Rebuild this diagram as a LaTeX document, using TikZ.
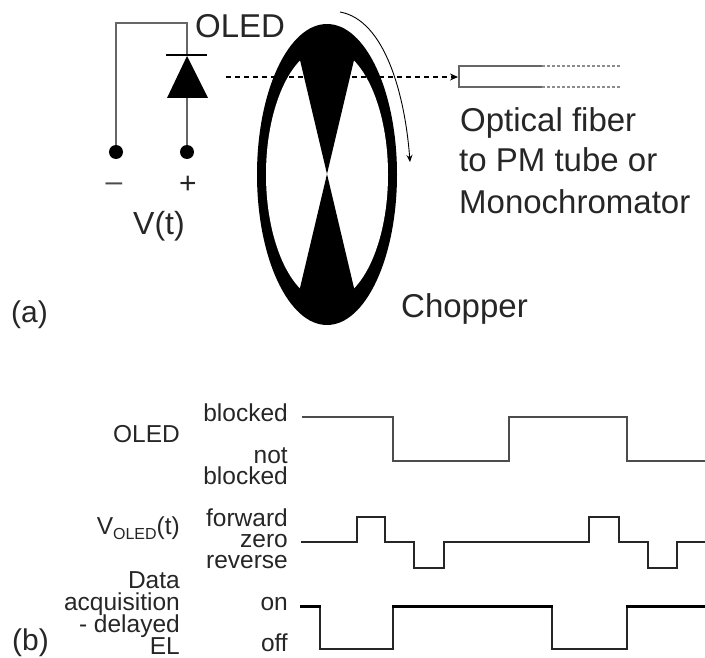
\documentclass[tikz,border=0pt]{standalone}
\usepackage{fontspec}
\setmainfont{Liberation Sans}
\usetikzlibrary{
        arrows,
        arrows.meta,
        positioning,
        shapes,
        shapes.geometric
    }
\tikzset{>=stealth',shorten >=0pt}
\tikzset{
    biglabel/.style={inner sep=0pt,anchor=base west,text=black!85,font=\fontsize{33}{36}\selectfont},
    leftlabel/.style={inner sep=0pt,anchor=base east,align=right,text=black!85,font=\fontsize{24.5}{26}\selectfont},
    terminal/.style={circle,fill=black,inner sep=0pt,minimum size=14pt},
    wire/.style={draw=black!60,line width=1.8pt},
    signal/.style={draw=black!85,line width=1.5pt,line join=miter},
    fiberwall/.style={draw=black!60,line width=2pt}
}

\begin{document}
\begin{tikzpicture}[x=1pt,y=-1pt]
        \useasboundingbox (0,0) rectangle (705,658);
        % circuit
        \node[terminal] (minus) at (116,152) {};
        \node[terminal] (plus) at (187,152) {};
        \coordinate (cornerl) at (116,23);
        \coordinate (cornerr) at (187,23);
        \coordinate (cathode) at (187,56);
        \coordinate (anode) at (187,98);
        \draw[wire] (minus) -- (cornerl) -- (cornerr) -- (cathode);
        \draw[wire] (anode) -- (plus);
        \fill (cathode) -- (208,98) -- (167,98) -- cycle;
        \draw[line width=1.5pt] (166,55) -- (207,55);
        \node[biglabel] (oledtop) at (195,38) {OLED};
        \node[inner sep=0pt,text=black!70,font=\fontsize{30}{32}\selectfont] (minuslabel) at (114,187) {–};
        \node[inner sep=0pt,text=black!85,font=\fontsize{30}{32}\selectfont] (pluslabel) at (188,185) {+};
        \node[biglabel,anchor=base,font=\fontsize{32}{34}\selectfont] (vlabel) at (159,235) {V(t)};
        % chopper
        \fill (327,174.5) ellipse [x radius=70,y radius=150.5];
        \fill[white] (327,174.5) ellipse [x radius=61,y radius=127];
        \fill (327,174) -- (296.2,44) -- (357.8,44) -- cycle;
        \fill (327,174) -- (296.2,304) -- (357.8,304) -- cycle;
        \draw[line width=0.9pt,-{Stealth[length=7pt,width=6pt]}] (340,12) .. controls (385,20) and (405,95) .. (410,162);
        \node[biglabel] (chopper) at (401,317) {Chopper};
        % fiber
        \coordinate (beamstart) at (226,77);
        \coordinate (fibertop) at (459,66);
        \coordinate (fiberbot) at (459,87);
        \coordinate (fibermid) at (458,77);
        \coordinate (toptail) at (542,66);
        \coordinate (bottail) at (542,87);
        \coordinate (topend) at (620,66);
        \coordinate (botend) at (620,87);
        \draw[line width=1.1pt,dash pattern=on 5pt off 4pt,-{Stealth[length=8pt,width=7pt]}] (beamstart) -- (fibermid);
        \draw[fiberwall] (toptail) -- (fibertop) -- (fiberbot) -- (bottail);
        \draw[draw=black!45,line width=1.2pt,dash pattern=on 2.5pt off 2.5pt] (toptail) -- (topend);
        \draw[draw=black!45,line width=1.2pt,dash pattern=on 2.5pt off 2.5pt] (bottail) -- (botend);
        \node[biglabel] (fiberone) at (460,132) {Optical fiber};
        \node[biglabel] (fibertwo) at (459,172) {to PM tube or};
        \node[biglabel] (fiberthree) at (459,214) {Monochromator};
        \node[biglabel,font=\fontsize{30}{32}\selectfont] (parta) at (11,323) {(a)};
        % timing
        \node[biglabel,font=\fontsize{30}{32}\selectfont] (partb) at (12,650) {(b)};
        \node[leftlabel] (oledrow) at (180,442) {OLED};
        \node[leftlabel] (voledrow) at (180,534) {V\raisebox{-5pt}{\fontsize{16}{16}\selectfont OLED}(t)};
        \node[leftlabel] (datarow) at (180,654) {Data\\[-4pt]acquisition\\[-4pt]- delayed\\[-4pt]EL};
        \node[leftlabel] (blocked) at (288,421) {blocked};
        \node[leftlabel] (notblocked) at (288,484) {not\\[-5pt]blocked};
        \node[leftlabel] (levels) at (288,568) {forward\\[-5pt]zero\\[-5pt]reverse};
        \node[leftlabel] (on) at (288,610) {on};
        \node[leftlabel] (off) at (288,651) {off};
        \draw[signal,draw=black!70] (302,417) -- (393,417) -- (393,461) -- (509,461) -- (509,417)
            -- (627,417) -- (627,461) -- (705,461);
        \draw[signal] (301,542) -- (357,542) -- (357,517) -- (385,517) -- (385,542) -- (414,542)
            -- (414,568) -- (444,568) -- (444,542) -- (589,542) -- (589,517) -- (619,517)
            -- (619,542) -- (648,542) -- (648,568) -- (677,568) -- (677,542) -- (705,542);
        \draw[signal] (320,606) -- (320,649) -- (393,649) -- (393,606);
        \draw[signal] (552,606) -- (552,649) -- (627,649) -- (627,606);
        \draw[line width=3pt] (300,606) -- (320.7,606);
        \draw[line width=3pt] (392.3,606) -- (552.7,606);
        \draw[line width=3pt] (626.3,606) -- (705,606);
\end{tikzpicture}
\end{document}
